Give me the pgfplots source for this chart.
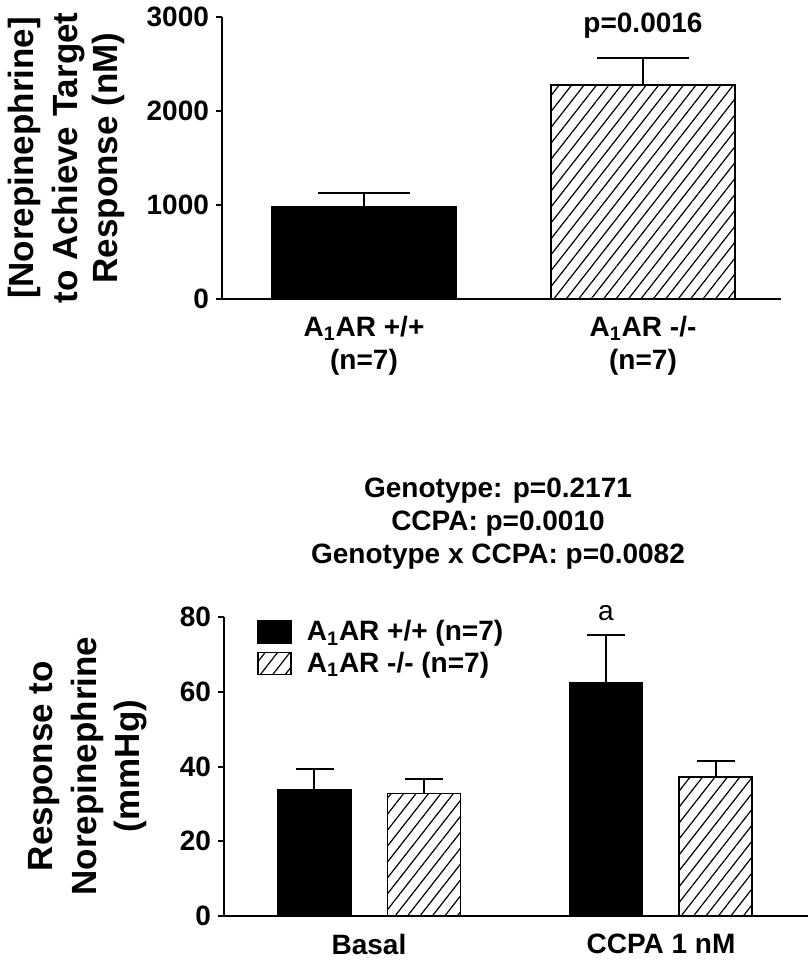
\documentclass[border=0pt]{standalone}
\usepackage{fontspec}
\setmainfont{Liberation Sans}
\usepackage{pgfplots}
\pgfplotsset{compat=1.18}
\usetikzlibrary{patterns.meta}
\newcommand{\tfont}{\bfseries\fontsize{14}{16.5}\selectfont}
\newcommand{\lfont}{\bfseries\fontsize{17.5}{21}\selectfont}
\pgfplotsset{
  myaxis/.style={
    scale only axis, clip=false,
    axis x line*=bottom, axis y line*=left,
    axis line style={-, line width=1pt},
    tick align=outside, major tick length=3pt,
    every tick/.style={line width=1pt, black},
    xtick style={draw=none},
    tick label style={font=\tfont},
    /pgf/number format/assume math mode=true,
    /pgf/number format/1000 sep={},
    scaled y ticks=false,
  },
  hatchbar/.style={draw=black, line width=0.75pt, fill=white,
    pattern={Lines[angle=52,distance=4.9pt,line width=0.6pt]}, pattern color=black},
  solidbar/.style={draw=black, line width=0.75pt, fill=black},
}
\begin{document}
\begin{tikzpicture}
\path[use as bounding box] (0,0) rectangle (404pt,-480pt);
% ---------- top panel ----------
\begin{axis}[myaxis,
  at={(111pt,-149.5pt)}, anchor=south west,
  width=279.5pt, height=141pt,
  xmin=222, xmax=781, ymin=0, ymax=3000,
  xtick={364,643},
  xticklabels={{A\textsubscript{1}AR +/+\\(n=7)},{A\textsubscript{1}AR -/-\\(n=7)}},
  xticklabel style={align=center, yshift=-2pt},
  ytick={0,1000,2000,3000},
]
\addplot[ybar, bar width=184, solidbar,
  error bars/.cd, y dir=plus, y explicit,
  error bar style={line width=1pt, black},
  error mark options={rotate=90, line width=1pt, mark size=23pt, black}]
  coordinates {(364,979) +- (0,149)};
\addplot[ybar, bar width=184, hatchbar,
  error bars/.cd, y dir=plus, y explicit,
  error bar style={line width=1pt, black},
  error mark options={rotate=90, line width=1pt, mark size=23pt, black}]
  coordinates {(643,2277) +- (0,287)};
\node[font=\tfont, anchor=base] at (axis cs:643,2840) {p=0.0016};
\end{axis}
\node[font=\lfont, rotate=90, anchor=base] at (16.5pt,-79pt) {[Norepinephrine]};
\node[font=\lfont, rotate=90, anchor=base] at (38.5pt,-79pt) {to Achieve Target};
\node[font=\lfont, rotate=90, anchor=base] at (58.5pt,-79pt) {Response (nM)};
% ---------- bottom panel ----------
\node[font=\tfont, anchor=base] at (249pt,-248.5pt) {Genotype: p=0.2171};
\node[font=\tfont, anchor=base] at (249pt,-265pt) {CCPA: p=0.0010};
\node[font=\tfont, anchor=base] at (249pt,-281.5pt) {Genotype x CCPA: p=0.0082};
\begin{axis}[myaxis,
  at={(112pt,-458pt)}, anchor=south west,
  width=292pt, height=149.5pt,
  xmin=224, xmax=808, ymin=0, ymax=80,
  xtick={369,661},
  xticklabels={Basal,CCPA 1 nM},
  xticklabel style={inner sep=0pt, yshift=-6pt},
  ytick={0,20,40,60,80},
  legend style={at={(axis cs:257,79.7)}, anchor=north west, draw=none, fill=none,
    inner sep=0pt, font=\tfont, row sep=2pt, nodes={inner sep=1pt},
    /tikz/every odd column/.append style={column sep=6.5pt}},
  legend cell align=left,
  legend image code/.code={\draw[#1] (0pt,-5.5pt) rectangle (16.5pt,5.5pt);},
]
\addplot[ybar, bar width=73, solidbar,
  error bars/.cd, y dir=plus, y explicit,
  error bar style={line width=1pt, black},
  error mark options={rotate=90, line width=1pt, mark size=9.5pt, black}]
  coordinates {(314.5,33.8) +- (0,5.6) (606,62.5) +- (0,12.7)};
\addlegendentry{A\textsubscript{1}AR +/+ (n=7)}
\addplot[ybar, bar width=73, hatchbar,
  error bars/.cd, y dir=plus, y explicit,
  error bar style={line width=1pt, black},
  error mark options={rotate=90, line width=1pt, mark size=9.5pt, black}]
  coordinates {(424,32.8) +- (0,3.9) (715.5,37.2) +- (0,4.4)};
\addlegendentry{A\textsubscript{1}AR -/- (n=7)}
\node[font=\fontsize{14}{16}\selectfont, anchor=base] at (axis cs:606,79) {a};
\end{axis}
\node[font=\lfont, rotate=90, anchor=base] at (26.5pt,-383pt) {Response to};
\node[font=\lfont, rotate=90, anchor=base] at (48.5pt,-383pt) {Norepinephrine};
\node[font=\lfont, rotate=90, anchor=base] at (69.5pt,-383pt) {(mmHg)};
\end{tikzpicture}
\end{document}
